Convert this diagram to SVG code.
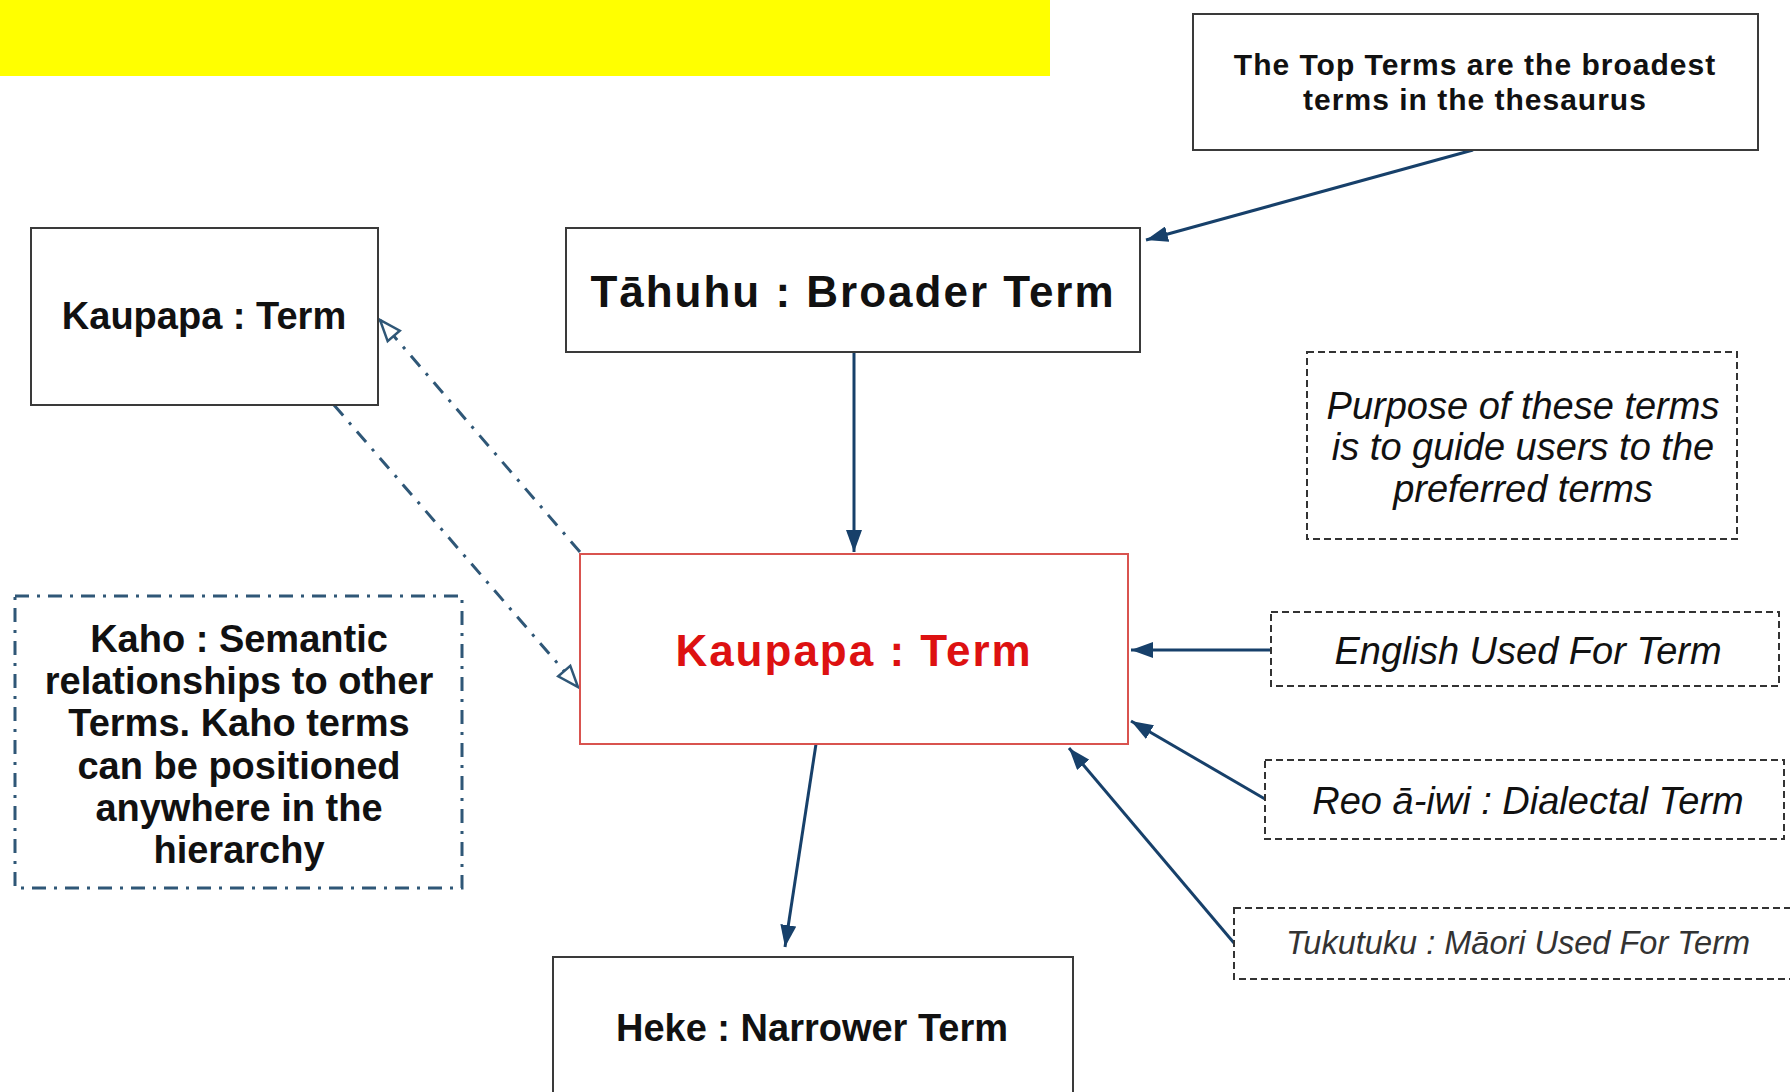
<svg xmlns="http://www.w3.org/2000/svg" width="1790" height="1092" viewBox="0 0 1790 1092">
<defs>
<style>
.box{fill:#fff;stroke:#3a3a3a;stroke-width:2}
.dbox{fill:#fff;stroke:#333;stroke-width:2;stroke-dasharray:7 4}
.kbox{fill:#fff;stroke:#2f5777;stroke-width:3;stroke-dasharray:14 8 3 8}
.red{fill:#fff;stroke:#d9534f;stroke-width:2}
.t{font-family:"Liberation Sans",Arial,sans-serif;text-anchor:middle;fill:#111}
.b{font-weight:bold}
.i{font-style:italic}
.con{stroke:#17406a;stroke-width:3;fill:none}
.dd{stroke:#2f5777;stroke-width:3;fill:none;stroke-dasharray:14 9 3 9}
</style>
<marker id="arr" markerUnits="userSpaceOnUse" markerWidth="24" markerHeight="16" refX="22" refY="8" orient="auto">
<path d="M0,0 L22,8 L0,16 z" fill="#17406a"/>
</marker>
<marker id="hol" markerUnits="userSpaceOnUse" markerWidth="26" markerHeight="20" refX="23" refY="10" orient="auto">
<path d="M2,2 L23,10 L2,18 z" fill="#fff" stroke="#2f5777" stroke-width="2.5"/>
</marker>
</defs>
<rect width="1790" height="1092" fill="#fff"/>
<g id="banner"><rect x="0" y="0" width="1050" height="76" fill="#ffff00"/></g>

<g id="connectors">
<line class="con" x1="1473" y1="150" x2="1146" y2="240" marker-end="url(#arr)"/>
<line class="con" x1="854" y1="352" x2="854" y2="552" marker-end="url(#arr)"/>
<line class="con" x1="1271" y1="650" x2="1131" y2="650" marker-end="url(#arr)"/>
<line class="con" x1="1265" y1="799" x2="1131" y2="721" marker-end="url(#arr)"/>
<line class="con" x1="1234" y1="943" x2="1069" y2="748" marker-end="url(#arr)"/>
<line class="con" x1="816" y1="744" x2="785" y2="947" marker-end="url(#arr)"/>
<line class="dd" x1="580" y1="552" x2="380" y2="320" marker-end="url(#hol)"/>
<line class="dd" x1="334" y1="405" x2="578" y2="687" marker-end="url(#hol)"/>
</g>

<g id="top-terms">
<rect class="box" x="1193" y="14" width="565" height="136"/>
<text class="t b" x="1475" y="75" font-size="30" letter-spacing="1">The Top Terms are the broadest</text>
<text class="t b" x="1475" y="110" font-size="30" letter-spacing="1">terms in the thesaurus</text>
</g>

<g id="tahuhu">
<rect class="box" x="566" y="228" width="574" height="124"/>
<text class="t b" x="853" y="307" font-size="44" letter-spacing="2">Tāhuhu : Broader Term</text>
</g>

<g id="kaupapa-left">
<rect class="box" x="31" y="228" width="347" height="177"/>
<text class="t b" x="204" y="329" font-size="38">Kaupapa : Term</text>
</g>

<g id="kaupapa-main">
<rect class="red" x="580" y="554" width="548" height="190"/>
<text class="t b" x="854" y="666" font-size="44" letter-spacing="2" style="fill:#dd1111">Kaupapa : Term</text>
</g>

<g id="heke">
<rect class="box" x="553" y="957" width="520" height="150"/>
<text class="t b" x="812" y="1041" font-size="38">Heke : Narrower Term</text>
</g>

<g id="purpose">
<rect class="dbox" x="1307" y="352" width="430" height="187"/>
<text class="t i" x="1523" y="419" font-size="38">Purpose of these terms</text>
<text class="t i" x="1523" y="460" font-size="38">is to guide users to the</text>
<text class="t i" x="1523" y="502" font-size="38">preferred terms</text>
</g>

<g id="english">
<rect class="dbox" x="1271" y="612" width="508" height="74"/>
<text class="t i" x="1528" y="664" font-size="38">English Used For Term</text>
</g>

<g id="reo">
<rect class="dbox" x="1265" y="760" width="519" height="79"/>
<text class="t i" x="1528" y="814" font-size="38">Reo ā-iwi : Dialectal Term</text>
</g>

<g id="tukutuku">
<rect class="dbox" x="1234" y="908" width="570" height="71"/>
<text class="t i" x="1518" y="954" font-size="32.5" style="fill:#333">Tukutuku : Māori Used For Term</text>
</g>

<g id="kaho">
<rect class="kbox" x="15" y="596" width="447" height="292"/>
<text class="t b" x="239" y="652" font-size="38">Kaho : Semantic</text>
<text class="t b" x="239" y="694" font-size="38">relationships to other</text>
<text class="t b" x="239" y="736" font-size="38">Terms. Kaho terms</text>
<text class="t b" x="239" y="779" font-size="38">can be positioned</text>
<text class="t b" x="239" y="821" font-size="38">anywhere in the</text>
<text class="t b" x="239" y="863" font-size="38">hierarchy</text>
</g>
</svg>
